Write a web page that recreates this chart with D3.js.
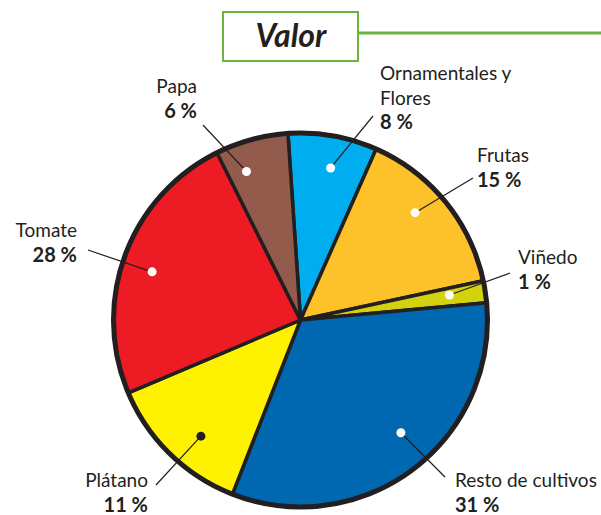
<!DOCTYPE html>
<html>
<head>
<meta charset="utf-8">
<script src="https://cdn.jsdelivr.net/npm/d3@7"></script>
<style>
  html, body { margin: 0; padding: 0; background: #fff; }
  svg { display: block; }
  text { font-family: Lato, "Open Sans", sans-serif; fill: #231F20; }
</style>
</head>
<body>
<svg id="chart" width="601" height="515"></svg>
<script>
// ---- Data ----
const title = "Valor";
const categories = ["Ornamentales y Flores", "Frutas", "Viñedo", "Resto de cultivos", "Plátano", "Tomate", "Papa"];
const nameLines = [["Ornamentales y", "Flores"], ["Frutas"], ["Viñedo"], ["Resto de cultivos"], ["Plátano"], ["Tomate"], ["Papa"]];
const percentLabels = [8, 15, 1, 31, 11, 28, 6];
// slice sizes as drawn in the picture (share of the circle, %)
const sliceShares = [7.7, 15.0, 1.9, 32.4, 12.7, 24.0, 6.3];

// ---- Styles / layout ----
const colors = ["#00AEEF", "#FDC12A", "#D3D20E", "#0067B1", "#FFF200", "#ED1C24", "#925B4B"];
const dotFill = ["#fff", "#fff", "#fff", "#fff", "#231F20", "#fff", "#fff"];
const cx = 300.5, cy = 320, R = 187;
const startDeg = -3.85;
// label layout: text anchor, text x, first baseline, leader end point, dot angle shift (deg), dot radius
const layout = [
  { anchor: "start", x: 380, y: 80,  lx: 373, ly: 116, shift: 1.2,  r: 155 },
  { anchor: "start", x: 477, y: 162, lx: 473, ly: 178, shift: -4.0, r: 157 },
  { anchor: "start", x: 518, y: 264, lx: 510, ly: 273, shift: -0.8, r: 151 },
  { anchor: "start", x: 455, y: 487, lx: 445, ly: 477, shift: -4.7, r: 151 },
  { anchor: "end",   x: 148, y: 487, lx: 156, ly: 485, shift: -3.6, r: 153 },
  { anchor: "end",   x: 77,  y: 237, lx: 88,  ly: 250, shift: -2.3, r: 156 },
  { anchor: "end",   x: 197, y: 93,  lx: 203, ly: 125, shift: -4.8, r: 158 }
];
const lineGap = 24.5;
const fontSize = 19;
const pctSize = 20;

const svg = d3.select("#chart");

// Title box
const green = "#6DB33F";
svg.append("line").attr("x1", 358).attr("x2", 601).attr("y1", 33).attr("y2", 33)
  .attr("stroke", green).attr("stroke-width", 3);
svg.append("rect").attr("x", 223).attr("y", 12).attr("width", 135).attr("height", 49)
  .attr("fill", "#fff").attr("stroke", green).attr("stroke-width", 2);
svg.append("text").attr("x", 291).attr("y", 47).attr("text-anchor", "middle")
  .style("font-size", "32px").style("font-weight", 700).style("font-style", "italic")
  .text(title);

// Pie
const data = categories.map((c, i) => ({ name: c, share: sliceShares[i], i }));
const pie = d3.pie().value(d => d.share).sort(null)
  .startAngle(startDeg * Math.PI / 180)
  .endAngle(startDeg * Math.PI / 180 + 2 * Math.PI);
const arcs = pie(data);
const arc = d3.arc().innerRadius(0).outerRadius(R);

const g = svg.append("g").attr("transform", `translate(${cx},${cy})`);
g.selectAll("path.slice").data(arcs).enter().append("path")
  .attr("class", "slice")
  .attr("d", arc)
  .attr("fill", d => colors[d.data.i])
  .attr("stroke", "#231F20").attr("stroke-width", 3.5).attr("stroke-linejoin", "round");
g.append("circle").attr("r", R).attr("fill", "none").attr("stroke", "#231F20").attr("stroke-width", 5);

// Leaders, dots and labels
arcs.forEach(a => {
  const i = a.data.i, L = layout[i];
  const mid = (a.startAngle + a.endAngle) / 2 + L.shift * Math.PI / 180;
  const dx = cx + L.r * Math.sin(mid), dy = cy - L.r * Math.cos(mid);
  svg.append("line").attr("x1", dx).attr("y1", dy).attr("x2", L.lx).attr("y2", L.ly)
    .attr("stroke", "#231F20").attr("stroke-width", 1.2);
  svg.append("circle").attr("cx", dx).attr("cy", dy).attr("r", 4.5).attr("fill", dotFill[i]);
  const t = svg.append("text").attr("text-anchor", L.anchor).style("font-size", fontSize + "px");
  nameLines[i].forEach((ln, k) => {
    t.append("tspan").attr("x", L.x).attr("y", L.y + k * lineGap).text(ln);
  });
  t.append("tspan").attr("x", L.x).attr("y", L.y + nameLines[i].length * lineGap)
    .style("font-weight", 700).style("font-size", pctSize + "px").text(percentLabels[i] + " %");
});
</script>
</body>
</html>
